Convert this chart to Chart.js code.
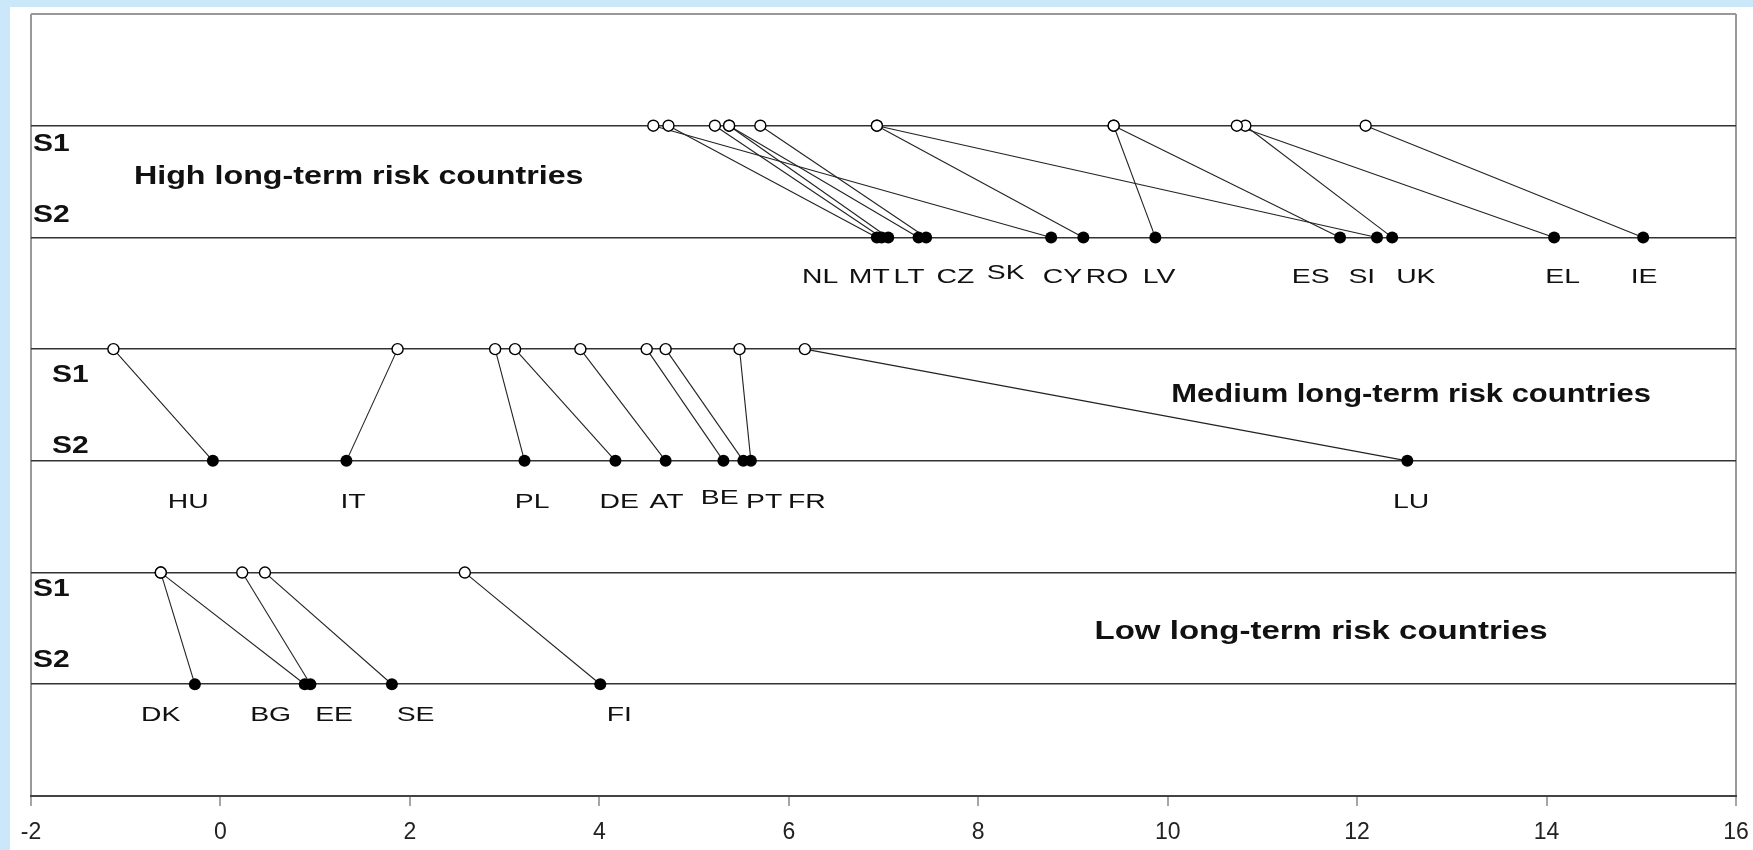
<!DOCTYPE html>
<html>
<head>
<meta charset="utf-8">
<script src="https://cdn.jsdelivr.net/npm/chart.js@4/dist/chart.umd.min.js"></script>
<style>
  html, body { margin: 0; padding: 0; width: 1753px; height: 850px; overflow: hidden; background: #cbe8fb; }
  #panel { position: absolute; left: 10px; top: 7px; width: 1743px; height: 843px; background: #ffffff; }
  #panel canvas { display: block; }
</style>
</head>
<body>
<div id="panel"><canvas id="chart" width="1743" height="843"></canvas></div>
<script>
// S1 and S2 sustainability gap indicators (% of GDP), by risk group
const highNames  = ['NL', 'MT', 'LT', 'CZ', 'SK', 'CY', 'RO', 'LV', 'ES', 'SI', 'UK', 'EL', 'IE'];
const highS1     = [4.73, 5.22, 5.37, 5.37, 5.70, 4.57, 6.93, 9.43, 9.43, 6.93, 10.82, 10.73, 12.09];
const highS2     = [6.93, 6.98, 7.05, 7.37, 7.45, 8.77, 9.11, 9.87, 11.82, 12.21, 12.37, 14.08, 15.02];
const highTagAt  = [6.33, 6.85, 7.27, 7.76, 8.29, 8.89, 9.36, 9.91, 11.51, 12.05, 12.62, 14.17, 15.03];

const mediumNames = ['HU', 'IT', 'PL', 'DE', 'AT', 'BE', 'PT', 'FR', 'LU'];
const mediumS1    = [-1.13, 1.87, 2.90, 3.11, 3.80, 4.50, 4.70, 5.48, 6.17];
const mediumS2    = [-0.08, 1.33, 3.21, 4.17, 4.70, 5.31, 5.52, 5.60, 12.53];
const mediumTagAt = [-0.34, 1.40, 3.29, 4.21, 4.71, 5.27, 5.74, 6.19, 12.57];

const lowNames  = ['DK', 'BG', 'EE', 'SE', 'FI'];
const lowS1     = [-0.63, -0.63, 0.23, 0.47, 2.58];
const lowS2     = [-0.27, 0.89, 0.95, 1.81, 4.01];
const lowTagAt  = [-0.63, 0.53, 1.20, 2.06, 4.21];

const xTickValues = [-2, 0, 2, 4, 6, 8, 10, 12, 14, 16];
const groupTitles = ['High long-term risk countries', 'Medium long-term risk countries', 'Low long-term risk countries'];

// Each band: S1 row sits one step above its S2 row
const groups = [
  { names: highNames, s1: highS1, s2: highS2, tagAt: highTagAt, title: groupTitles[0],
    rowS1: 6, rowS2: 5, titleAt: [1.46, 5.54], titleStretch: 1.24,
    inset: 2, s1Drop: 19, s2Lift: 22, nameDrop: 40, raised: ['SK'] },
  { names: mediumNames, s1: mediumS1, s2: mediumS2, tagAt: mediumTagAt, title: groupTitles[1],
    rowS1: 4, rowS2: 3, titleAt: [12.57, 3.59], titleStretch: 1.19,
    inset: 21, s1Drop: 26, s2Lift: 14, nameDrop: 41, raised: ['BE'] },
  { names: lowNames, s1: lowS1, s2: lowS2, tagAt: lowTagAt, title: groupTitles[2],
    rowS1: 2, rowS2: 1, titleAt: [11.62, 1.47], titleStretch: 1.27,
    inset: 2, s1Drop: 17, s2Lift: 24, nameDrop: 31, raised: [] }
];

const FONT = '"Liberation Sans", Arial, sans-serif';

// Markers first so they are painted above the connecting lines
const datasets = [];
groups.forEach(g => {
  datasets.push({
    data: g.s1.map(v => ({ x: v, y: g.rowS1 })),
    showLine: false, pointRadius: 5.5, pointBackgroundColor: '#ffffff',
    pointBorderColor: '#000000', pointBorderWidth: 1.4
  });
  datasets.push({
    data: g.s2.map(v => ({ x: v, y: g.rowS2 })),
    showLine: false, pointRadius: 6, pointBackgroundColor: '#000000',
    pointBorderColor: '#000000', pointBorderWidth: 0
  });
});
groups.forEach(g => {
  g.names.forEach((n, i) => {
    datasets.push({
      label: n,
      data: [{ x: g.s1[i], y: g.rowS1 }, { x: g.s2[i], y: g.rowS2 }],
      showLine: true, borderColor: '#222222', borderWidth: 1.1, pointRadius: 0
    });
  });
});

function stretched(ctx, text, px, py, font, sx, align) {
  ctx.save();
  ctx.font = font;
  ctx.textAlign = align;
  ctx.textBaseline = 'middle';
  ctx.translate(px, py);
  ctx.scale(sx, 1);
  ctx.fillText(text, 0, 0);
  ctx.restore();
}

const bandText = {
  id: 'bandText',
  afterDatasetsDraw(chart) {
    const { ctx, chartArea, scales: { x, y } } = chart;
    ctx.save();
    ctx.fillStyle = '#111111';
    groups.forEach(g => {
      const yS1 = y.getPixelForValue(g.rowS1);
      const yS2 = y.getPixelForValue(g.rowS2);
      stretched(ctx, 'S1', chartArea.left + g.inset, yS1 + g.s1Drop, 'bold 24px ' + FONT, 1.25, 'left');
      stretched(ctx, 'S2', chartArea.left + g.inset, yS2 - g.s2Lift, 'bold 24px ' + FONT, 1.25, 'left');
      stretched(ctx, g.title, x.getPixelForValue(g.titleAt[0]), y.getPixelForValue(g.titleAt[1]),
                'bold 26px ' + FONT, g.titleStretch, 'center');
      g.names.forEach((n, i) => {
        const lift = g.raised.includes(n) ? 4 : 0;
        stretched(ctx, n, x.getPixelForValue(g.tagAt[i]), yS2 + g.nameDrop - lift, '21px ' + FONT, 1.35, 'center');
      });
    });
    ctx.restore();
  }
};

new Chart(document.getElementById('chart'), {
  type: 'scatter',
  data: { datasets },
  plugins: [bandText],
  options: {
    responsive: false,
    animation: false,
    devicePixelRatio: 1,
    layout: { padding: { left: 21, right: 17, top: 7, bottom: 0 } },
    plugins: { legend: { display: false }, tooltip: { enabled: false } },
    scales: {
      x: {
        type: 'linear', min: -2, max: 16,
        afterBuildTicks: s => { s.ticks = xTickValues.map(v => ({ value: v })); },
        afterFit: s => { s.height = 54; s.paddingLeft = 0; s.paddingRight = 0; },
        border: { display: true, color: '#444444', width: 2 },
        grid: {
          color: c => (c.tick && (c.tick.value === -2 || c.tick.value === 16)) ? '#999999' : 'rgba(0,0,0,0)',
          lineWidth: 2, drawTicks: true, tickLength: 10, tickColor: '#888888', tickWidth: 1.5
        },
        ticks: { color: '#222222', padding: 13, font: { family: FONT, size: 23 }, maxRotation: 0 }
      },
      y: {
        type: 'linear', min: 0, max: 7,
        ticks: { display: false, stepSize: 1 },
        border: { display: false },
        grid: {
          drawTicks: false,
          color: c => (c.tick && c.tick.value === 7) ? '#999999' : '#333333',
          lineWidth: c => (c.tick && c.tick.value === 7) ? 2 : 1.6
        }
      }
    }
  }
});
</script>
</body>
</html>
